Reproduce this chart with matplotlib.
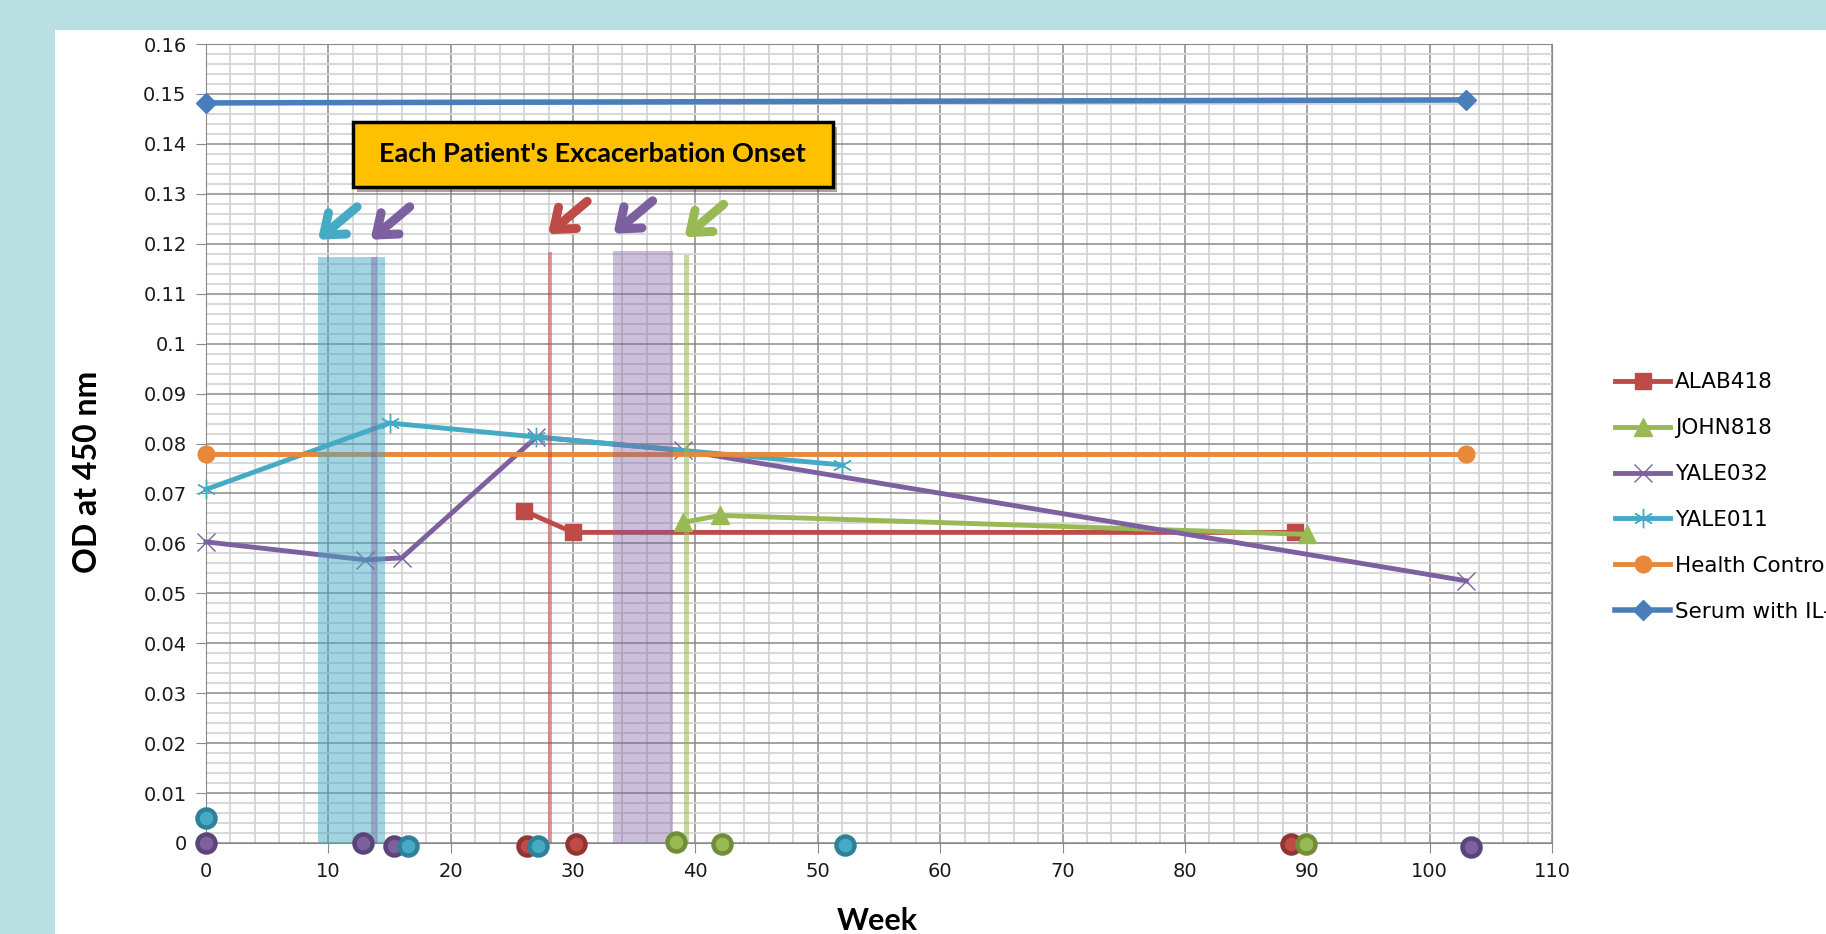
import matplotlib
matplotlib.use('Agg')
import matplotlib.pyplot as plt
import matplotlib.patheffects as pe
from matplotlib.patches import Rectangle
from matplotlib.ticker import MultipleLocator, FuncFormatter

# Données (semaine, DO à 450 nm)
alab_weeks = [26, 30, 89]
alab_od = [0.0665, 0.0622, 0.0622]
john_weeks = [39, 42, 90]
john_od = [0.0642, 0.0656, 0.0618]
yale032_weeks = [0, 13, 16, 27, 39, 103]
yale032_od = [0.0603, 0.0567, 0.0571, 0.0813, 0.0786, 0.0525]
yale011_weeks = [0, 15, 27, 52]
yale011_od = [0.0708, 0.0841, 0.0813, 0.0757]
control_weeks = [0, 103]
control_od = [0.0779, 0.0779]
serum_weeks = [0, 103]
serum_od = [0.1482, 0.1488]

# Prélèvements (pastilles sur l'axe des x)
alab_samples = [26.2, 30.2, 88.7]
alab_samples_y = [-0.0006, -0.0002, -0.0002]
john_samples = [38.4, 42.2, 89.9]
john_samples_y = [0.0002, -0.0002, -0.0002]
yale032_samples = [0, 12.8, 15.4, 103.4]
yale032_samples_y = [0, 0, -0.0006, -0.0008]
yale011_samples = [0, 16.5, 27.1, 52.2]
yale011_samples_y = [0.005, -0.0006, -0.0006, -0.0004]

# Début d'exacerbation de chaque patient
onset_patient = ['YALE011', 'YALE032', 'ALAB418', 'YALE032', 'JOHN818']
onset_start = [9.15, 13.45, 27.95, 33.3, 39.1]
onset_end = [14.6, 13.97, 28.25, 38.2, 39.5]
onset_top = [0.1173, 0.1173, 0.1184, 0.1185, 0.1178]

RED = '#be4b48'
GREEN = '#98b954'
PURPLE = '#7d60a0'
TEAL = '#46aac5'
ORANGE = '#e8883a'
BLUE = '#4a7ebb'
colors = {'ALAB418': RED, 'JOHN818': GREEN, 'YALE032': PURPLE, 'YALE011': TEAL}
band_alpha = {'ALAB418': 0.55, 'JOHN818': 0.55, 'YALE032': 0.4, 'YALE011': 0.5}

W, H = 1826, 934
fig = plt.figure(figsize=(W / 100, H / 100), dpi=100, facecolor='#b9dfe2')
fig.add_artist(Rectangle((55 / W, 0), 1, 1 - 30 / H, transform=fig.transFigure,
                         facecolor='white', edgecolor='none', zorder=-10))

ax = fig.add_axes([206 / W, 1 - 843 / H, 1346 / W, 799 / H])
ax.set_xlim(0, 110)
ax.set_ylim(0, 0.16)

# Grille (majeure + mineure)
ax.xaxis.set_major_locator(MultipleLocator(10))
ax.xaxis.set_minor_locator(MultipleLocator(2))
ax.yaxis.set_major_locator(MultipleLocator(0.01))
ax.yaxis.set_minor_locator(MultipleLocator(0.002))
ax.grid(which='minor', color='#d6d6d6', lw=1.3, zorder=0)
ax.grid(which='major', color='#8a8a8a', lw=1.1, zorder=0)
ax.set_axisbelow(True)
ax.yaxis.set_major_formatter(FuncFormatter(lambda v, p: f'{v:g}'))
ax.tick_params(which='major', length=7, color='#8a8a8a', labelsize=14,
               labelcolor='#1a1a1a', pad=7)
ax.tick_params(which='minor', length=0)
for s in ax.spines.values():
    s.set_color('#8a8a8a')

# Courbes
line_kw = dict(lw=3.5, clip_on=False, zorder=3)
ax.plot(alab_weeks, alab_od, color=RED, marker='s', ms=12, label='ALAB418', **line_kw)
ax.plot(john_weeks, john_od, color=GREEN, marker='^', ms=13, label='JOHN818', **line_kw)
ax.plot(yale032_weeks, yale032_od, color=PURPLE, marker='x', ms=13, mew=1,
        label='YALE032', **line_kw)
ax.plot(yale011_weeks, yale011_od, color=TEAL, marker=(6, 2, 0), ms=14, mew=1,
        label='YALE011', **line_kw)
ax.plot(control_weeks, control_od, color=ORANGE, marker='o', ms=12,
        label='Health Control', **line_kw)
ax.plot(serum_weeks, serum_od, color=BLUE, marker='D', ms=10, lw=4,
        label='Serum with IL-6', clip_on=False, zorder=3)

# Zones d'exacerbation
for pat, a, b, top in zip(onset_patient, onset_start, onset_end, onset_top):
    ax.bar(a, top, width=b - a, align='edge', color=colors[pat],
           alpha=band_alpha[pat], lw=0, zorder=4)
    ax.annotate('', xy=(a, top + 0.0035), xytext=(a + 3.2, top + 0.0101),
                arrowprops=dict(arrowstyle='->,head_length=0.65,head_width=0.5',
                                lw=6.5, color=colors[pat], mutation_scale=20,
                                shrinkA=0, shrinkB=0),
                zorder=6)

# Pastilles des prélèvements
sample_sets = [(alab_samples, alab_samples_y, RED, '#923432'),
               (john_samples, john_samples_y, GREEN, '#718d38'),
               (yale032_samples, yale032_samples_y, PURPLE, '#5a4478'),
               (yale011_samples, yale011_samples_y, TEAL, '#2f8198')]
for xs, ys, fc, ec in sample_sets:
    ax.plot(xs, ys, ls='none', marker='o', ms=13, mfc=fc, mec=ec, mew=3.2,
            clip_on=False, zorder=5)

# Encadré
box = Rectangle((12.0, 0.1314), 39.2, 0.0130, facecolor='#ffc000',
                edgecolor='black', lw=2.5, zorder=7,
                path_effects=[pe.SimplePatchShadow(offset=(3, -4), alpha=0.45),
                              pe.Normal()])
ax.add_patch(box)
ax.text(31.55, 0.1380, "Each Patient's Excacerbation Onset", family='Lato',
        weight='bold', fontsize=19.5, ha='center', va='center', zorder=8)

ax.set_xlabel('Week', family='Lato', weight='bold', fontsize=22)
ax.set_ylabel('OD at 450 nm', family='Lato', weight='bold', fontsize=23)
ax.xaxis.label.set_va('center')
ax.yaxis.label.set_va('center')
ax.xaxis.set_label_coords(0.4985, -0.0976)
ax.yaxis.set_label_coords(-0.0884, 0.464)

ax.legend(loc='center left', bbox_to_anchor=(1604 / W, 1 - 497 / H),
          bbox_transform=fig.transFigure, frameon=False, borderpad=0,
          handlelength=2.58, handletextpad=0.23, labelspacing=1.2,
          prop={'size': 15.5}, numpoints=1)

plt.savefig('out.png', dpi=100, facecolor=fig.get_facecolor())
plt.close()
